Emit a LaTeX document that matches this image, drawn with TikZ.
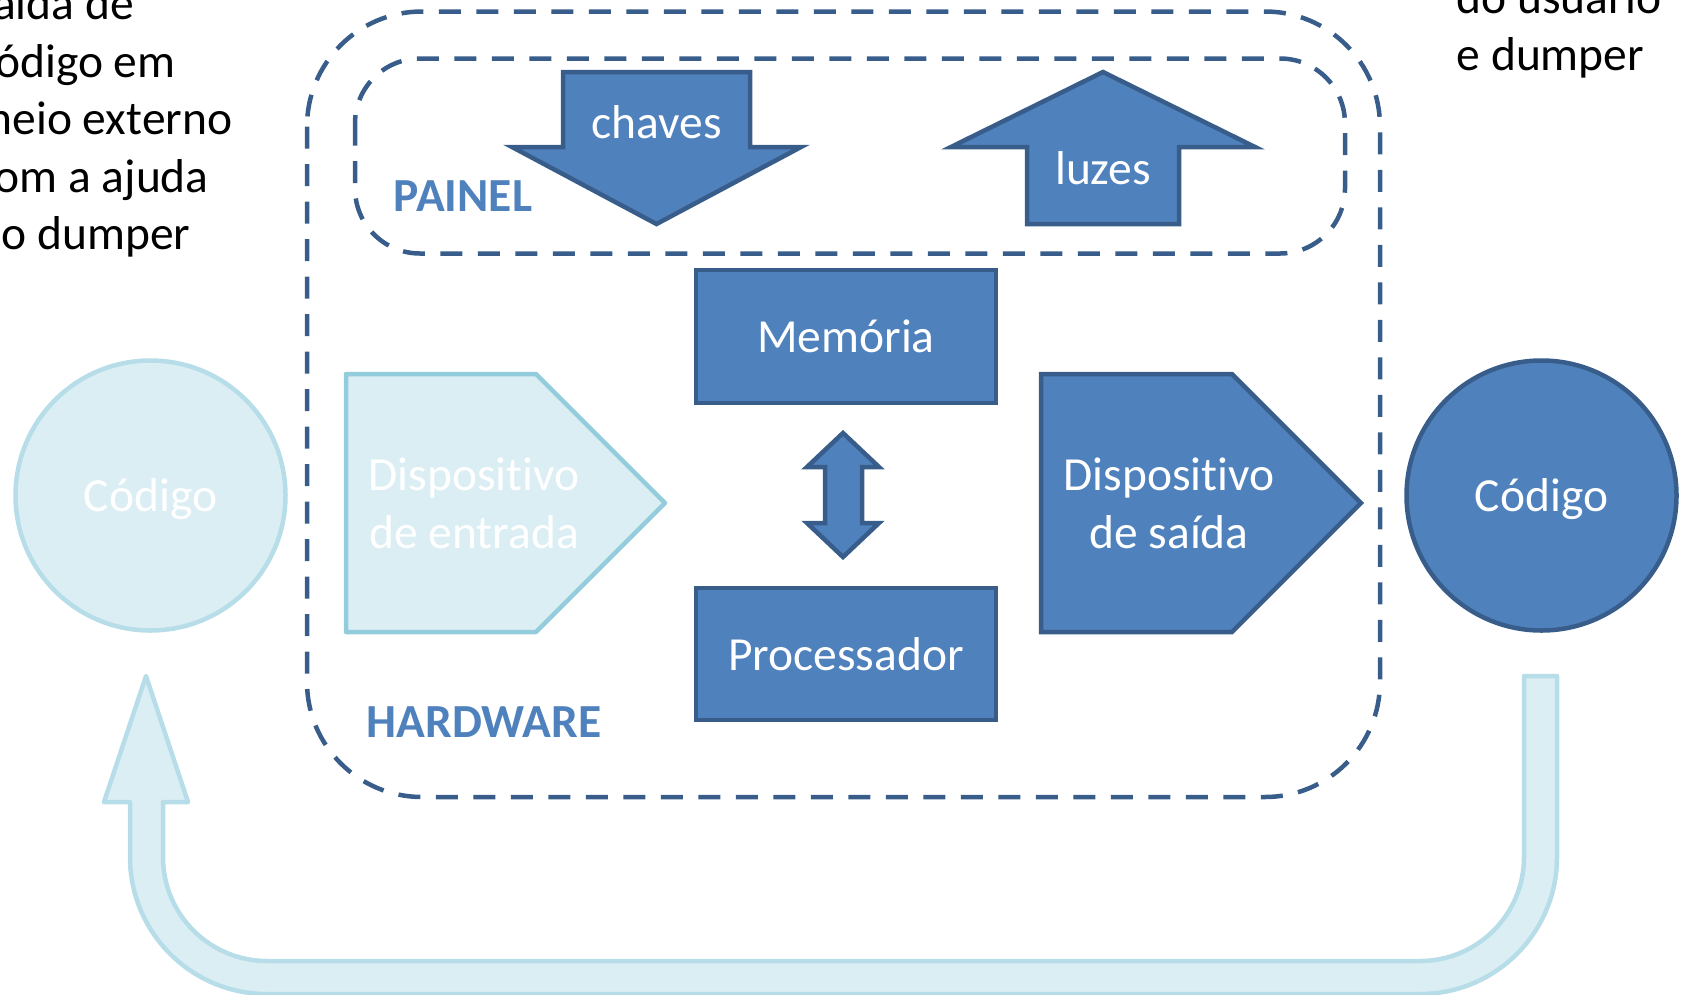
\documentclass[tikz,border=0pt]{standalone}
\usepackage{fontspec}
\setmainfont{Carlito}[Ligatures=CommonOff]
\usetikzlibrary{calc}
\definecolor{dkfill}{HTML}{4F81BD}
\definecolor{dkline}{HTML}{385D8A}
\definecolor{ltfill}{HTML}{DBEEF4}
\definecolor{ltline}{HTML}{B7DDE8}
\definecolor{ltlinetwo}{HTML}{93CDDD}
\begin{document}
\begin{tikzpicture}[x=1pt,y=-1pt,
  every node/.style={font=\fontsize{47.5}{57.5}\selectfont, inner sep=0pt},
  dk/.style={fill=dkfill, draw=dkline, line width=4.5pt, line join=miter},
  lt/.style={fill=ltfill, draw=ltline, line width=4.5pt, line join=round},
  dsh/.style={draw=dkline, line width=4.5pt, dash pattern=on 22pt off 15.5pt},
  lbl/.style={text=dkfill, font=\fontsize{47.5}{57.5}\selectfont\bfseries},
  boxtxt/.style={text=white, text height=40pt, text depth=8pt},
  sidetxt/.style={text=black, align=left}
]
\useasboundingbox (0,0) rectangle (1685,994);

% dashed frames
\draw[dsh, rounded corners=115pt] (307,11.5) rectangle (1380,797);
\draw[dsh, rounded corners=65pt] (355,58.5) rectangle (1345,253.5);

% return arrow
\path[lt] (146,676) -- (188,802) -- (163,802) -- (163,857)
  arc[start angle=180, end angle=90, radius=104] -- (1420,961)
  arc[start angle=90, end angle=0, radius=104] -- (1524,676) -- (1557,676) -- (1557,857)
  arc[start angle=0, end angle=90, radius=137] -- (267,994)
  arc[start angle=90, end angle=180, radius=137] -- (130,802) -- (104,802) -- cycle;

% circles
\node[circle, lt, minimum size=270pt, boxtxt] (cin) at (150.5,495.5) {Código};
\node[circle, dk, minimum size=270pt, boxtxt] (cout) at (1541.5,495.5) {Código};

% input / output devices
\path[lt, draw=ltlinetwo] (346,374) -- (536,374) -- (665,503) -- (536,632) -- (346,632) -- cycle;
\node[text=white, align=center, anchor=base] (din) at (474,548) {Dispositivo\\de entrada};
\path[dk] (1041,374) -- (1232,374) -- (1361,503) -- (1232,632) -- (1041,632) -- cycle;
\node[text=white, align=center, anchor=base] (dout) at (1169,548) {Dispositivo\\de saída};

% memory and processor
\node[dk, minimum width=300pt, minimum height=133pt, boxtxt] (mem) at (846,336.5) {Memória};
\node[dk, minimum width=300pt, minimum height=132pt, boxtxt] (proc) at (846,654) {Processador};
\path[dk] (843,433) -- (879,467) -- (862,467) -- (862,523) -- (879,523) -- (843,557)
  -- (807,523) -- (825,523) -- (825,467) -- (807,467) -- cycle;

% panel arrows
\path[dk] (563,72) -- (750,72) -- (750,147) -- (801,147) -- (656.5,224) -- (512,147) -- (563,147) -- cycle;
\node[text=white, anchor=base] (chv) at (657,138) {chaves};
\path[dk] (1103,72) -- (1255,147) -- (1179,147) -- (1179,224) -- (1027,224) -- (1027,147) -- (951,147) -- cycle;
\node[text=white, anchor=base] (luz) at (1103,184) {luzes};

% labels
\node[lbl, anchor=base] (painel) at (463,211) {PAINEL};
\node[lbl, anchor=base] (hw) at (484,737) {HARDWARE};

% side texts
\node[sidetxt, anchor=base west] (tl) at (0,249.5) {\hspace*{-7pt}aída de\\\hspace*{-5pt}ódigo em\\\hspace*{-12.5pt}neio externo\\\hspace*{-5.5pt}om a ajuda\\\hspace*{1.5pt}o dumper};
\node[sidetxt, anchor=base west] (tr) at (1456.5,70.5) {do usuário\\e dumper};
\end{tikzpicture}
\end{document}
